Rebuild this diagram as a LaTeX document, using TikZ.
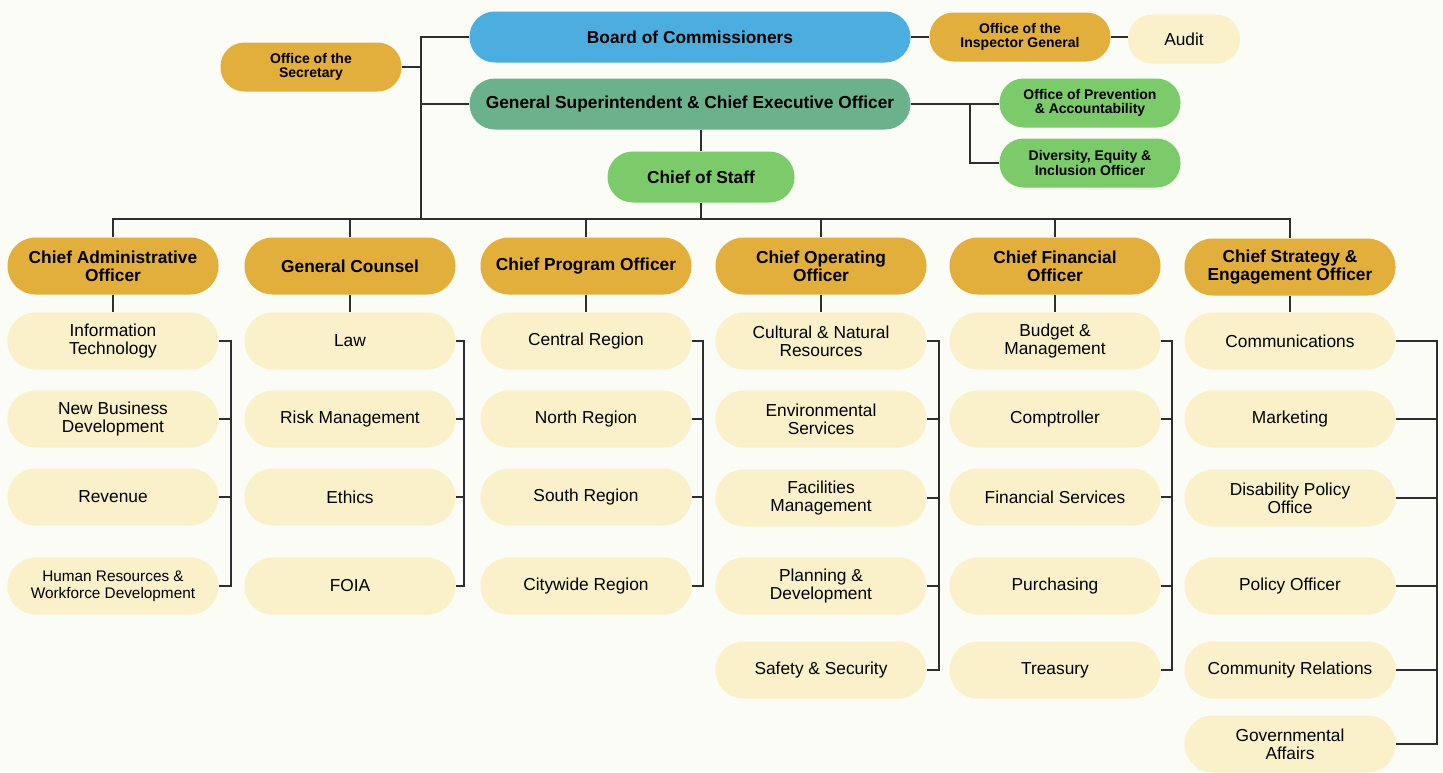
\documentclass[tikz,border=0pt]{standalone}
\usepackage{fontspec}
\setmainfont{Liberation Sans}
\usetikzlibrary{positioning, calc}

\definecolor{pagebg}{HTML}{FCFCF6}
\definecolor{gold}{HTML}{E2AF3C}
\definecolor{board}{HTML}{4BAEDE}
\definecolor{ceogreen}{HTML}{6BB18C}
\definecolor{lightgreen}{HTML}{7CCB6A}
\definecolor{cream}{HTML}{FAF0C9}
\definecolor{linegray}{HTML}{2E2E2E}

\begin{document}
\begin{tikzpicture}[x=0.75pt, y=-0.75pt,
	pill/.style={rectangle, rounded corners=21pt, minimum width=158.25pt, minimum height=42.75pt, inner sep=1pt, align=center, font=\fontsize{13}{13.5}\selectfont},
	chief/.style={pill, fill=gold, font=\bfseries\fontsize{13}{13.5}\selectfont},
	dept/.style={pill, fill=cream},
	small/.style={rectangle, rounded corners=18pt, minimum width=135.75pt, minimum height=36.75pt, inner sep=1pt, align=center, font=\bfseries\fontsize{10.5}{10.8}\selectfont},
	top/.style={rectangle, rounded corners=19pt, minimum width=330.75pt, minimum height=38.25pt, inner sep=1pt, align=center, font=\bfseries\fontsize{13}{13.5}\selectfont},
	link/.style={draw=linegray, line width=1.4pt}]
	\path[use as bounding box, fill=pagebg] (0,0) rectangle (1443,772);

	% top of the chart
	\node at (690,37) [top, fill=board] (board) {Board of Commissioners};
	\node at (690,104) [top, fill=ceogreen] (ceo) {General Superintendent \& Chief Executive Officer};
	\node at (701,177) [top, fill=lightgreen, minimum width=140.25pt] (cos) {Chief of Staff};
	\node at (311,67) [small, fill=gold] (sec) {Office of the\\Secretary};
	\node at (1020,37) [small, fill=gold] (ig) {Office of the\\Inspector General};
	\node at (1184,39) [small, fill=cream, minimum width=84pt, font=\fontsize{13}{13.5}\selectfont] (audit) {Audit};
	\node at (1090,103) [small, fill=lightgreen] (prev) {Office of Prevention\\\& Accountability};
	\node at (1090,163) [small, fill=lightgreen] (dei) {Diversity, Equity \&\\Inclusion Officer};

	% chiefs
	\node at (113,266) [chief] (cao) {Chief Administrative\\Officer};
	\node at (350,266) [chief] (gc) {General Counsel};
	\node at (586,266) [chief] (cpo) {Chief Program Officer};
	\node at (821,266) [chief] (coo) {Chief Operating\\Officer};
	\node at (1055,266) [chief] (cfo) {Chief Financial\\Officer};
	\node at (1290,267) [chief] (cso) {Chief Strategy \&\\Engagement Officer};

	% departments
	\node at (113,341) [dept] (a1) {Information\\Technology};
	\node at (113,419) [dept] (a2) {New Business\\Development};
	\node at (113,497) [dept] (a3) {Revenue};
	\node at (113,586) [dept, font=\fontsize{11.5}{12.5}\selectfont] (a4) {Human Resources \&\\Workforce Development};

	\node at (350,341) [dept] (g1) {Law};
	\node at (350,419) [dept] (g2) {Risk Management};
	\node at (350,497) [dept] (g3) {Ethics};
	\node at (350,586) [dept] (g4) {FOIA};

	\node at (586,341) [dept] (p1) {Central Region};
	\node at (586,419) [dept] (p2) {North Region};
	\node at (586,497) [dept] (p3) {South Region};
	\node at (586,586) [dept] (p4) {Citywide Region};

	\node at (821,341) [dept] (o1) {Cultural \& Natural\\Resources};
	\node at (821,419) [dept] (o2) {Environmental\\Services};
	\node at (821,498) [dept] (o3) {Facilities\\Management};
	\node at (821,586) [dept] (o4) {Planning \&\\Development};
	\node at (821,670) [dept] (o5) {Safety \& Security};

	\node at (1055,341) [dept] (f1) {Budget \&\\Management};
	\node at (1055,419) [dept] (f2) {Comptroller};
	\node at (1055,497) [dept] (f3) {Financial Services};
	\node at (1055,586) [dept] (f4) {Purchasing};
	\node at (1055,670) [dept] (f5) {Treasury};

	\node at (1290,341) [dept] (s1) {Communications};
	\node at (1290,419) [dept] (s2) {Marketing};
	\node at (1290,498) [dept] (s3) {Disability Policy\\Office};
	\node at (1290,586) [dept] (s4) {Policy Officer};
	\node at (1290,670) [dept] (s5) {Community Relations};
	\node at (1290,744) [dept] (s6) {Governmental\\Affairs};

	% connectors
	\coordinate (sp top) at (421,37);
	\coordinate (sp bot) at (421,219);
	\coordinate (fork) at (970,104);
	\draw[link] (board.west) -- (sp top) -- (sp bot);
	\draw[link] (sec.east) -- (sec.east -| sp top);
	\draw[link] (ceo.west) -- (ceo.west -| sp top);
	\draw[link] (board.east) -- (ig.west);
	\draw[link] (ig.east) -- (ig.east -| audit.west);
	\draw[link] (ceo.east) -- (ceo.east -| prev.west);
	\draw[link] (fork) |- (dei.west);
	\draw[link] (ceo.south -| cos.north) -- (cos.north);
	\draw[link] (cos.south) -- (cos.south |- sp bot);
	\draw[link] (cao.north) |- (sp bot) -| (cso.north);
	\foreach \h in {gc, cpo, coo, cfo}
		\draw[link] (\h.north) -- (\h.north |- sp bot);
	\foreach \h/\c/\n/\bx in {cao/a/4/231, gc/g/4/464, cpo/p/4/703, coo/o/5/939, cfo/f/5/1172, cso/s/6/1437} {
		\draw[link] (\h.south) -- (\c1.north);
		\draw[link] (\c1.east) -- (\c1.east -| \bx,0) -- (\c\n.east -| \bx,0) -- (\c\n.east);
		\foreach \k in {2,...,\n}
			\draw[link] (\c\k.east) -- (\c\k.east -| \bx,0);
	}
\end{tikzpicture}
\end{document}
